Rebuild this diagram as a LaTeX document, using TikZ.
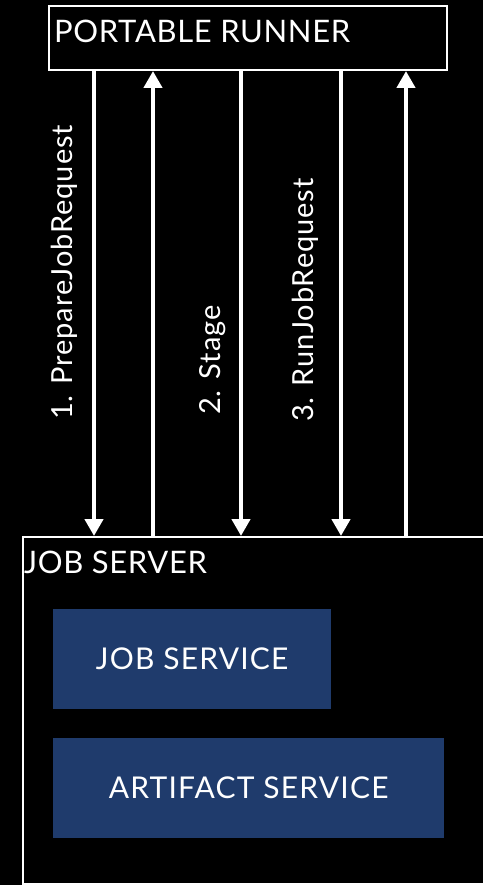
\documentclass[tikz,border=0pt]{standalone}
\usepackage{fontspec}
\setmainfont{Lato}
\newfontfamily\hostfont[LetterSpace=2]{Lato}
\newfontfamily\svcfont[LetterSpace=4]{Lato}
\newfontfamily\msgfont[LetterSpace=3]{Lato}
\usetikzlibrary{arrows.meta}
\definecolor{svcblue}{RGB}{31,59,108}
\begin{document}
\begin{tikzpicture}[x=1pt,y=-1pt,
  frame/.style={draw=white,line width=2pt,rectangle,inner sep=0pt},
  svcbox/.style={fill=svcblue,draw=none,rectangle,inner sep=0pt,text=white,font=\svcfont\fontsize{30}{36}\selectfont},
  boxlabel/.style={text=white,inner sep=0pt,font=\hostfont\fontsize{31}{37}\selectfont},
  msglabel/.style={text=white,inner sep=0pt,rotate=90,anchor=base west,font=\msgfont\fontsize{29}{35}\selectfont},
  flow/.style={draw=white,line width=4.5pt,-{Triangle[width=18pt,length=17pt]}}
]
% canvas
\fill[black] (0,0) rectangle (483,885);
\useasboundingbox (0,0) rectangle (483,885);

% the two hosts
\node[frame,minimum width=398pt,minimum height=64pt,anchor=north west] (runner) at (48,5) {};
\node[boxlabel,anchor=base west] (runnertext) at (54,43) {PORTABLE RUNNER};
\node[frame,minimum width=480pt,minimum height=347pt,anchor=north west] (server) at (22,536) {};
\node[boxlabel,anchor=base west] (servertext) at (24,573) {JOB SERVER};

% services inside the job server
\node[svcbox,minimum width=278pt,minimum height=100pt,anchor=north west] (jobsvc) at (53,609) {JOB SERVICE};
\node[svcbox,minimum width=391pt,minimum height=100pt,anchor=north west] (artsvc) at (53,738) {ARTIFACT SERVICE};

% message lanes
\coordinate (l1) at (94,300);
\coordinate (l2) at (153,300);
\coordinate (l3) at (241,300);
\coordinate (l4) at (341,300);
\coordinate (l5) at (406,300);

\draw[flow] (runner.south -| l1) -- (server.north -| l1);
\draw[flow] (server.north -| l2) -- (runner.south -| l2);
\draw[flow] (runner.south -| l3) -- (server.north -| l3);
\draw[flow] (runner.south -| l4) -- (server.north -| l4);
\draw[flow] (server.north -| l5) -- (runner.south -| l5);

% message names
\node[msglabel] (m1) at (72,420) {1. PrepareJobRequest};
\node[msglabel] (m2) at (220,415) {2. Stage};
\node[msglabel] (m3) at (313,422) {3. RunJobRequest};
\end{tikzpicture}
\end{document}
